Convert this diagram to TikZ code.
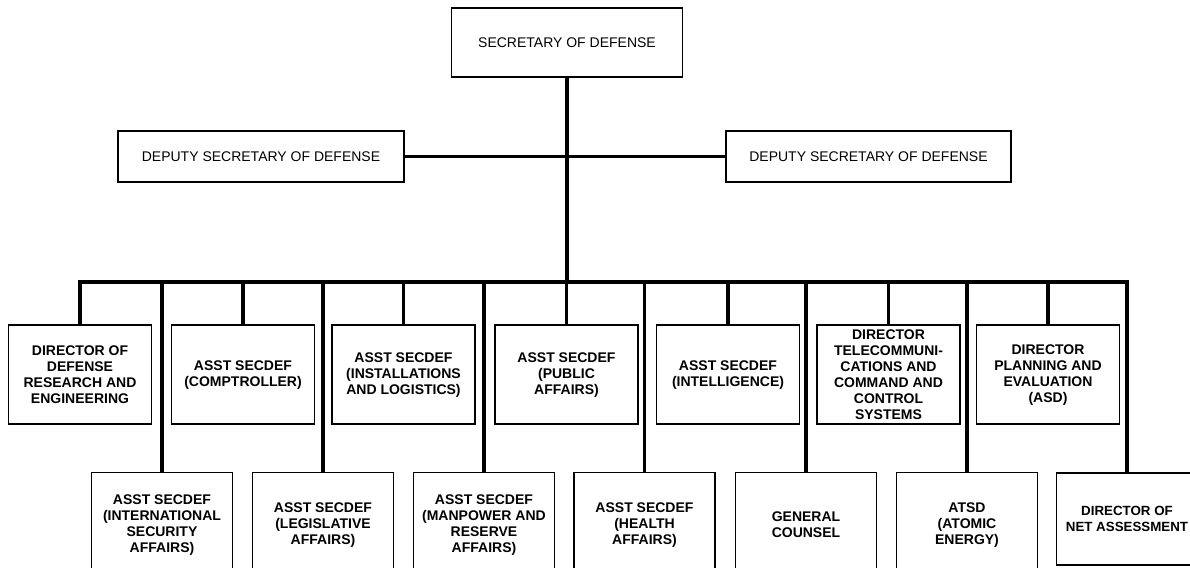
\documentclass[tikz,border=0pt]{standalone}
\usepackage{fontspec}
\setmainfont{Liberation Sans}
\usepackage{tikz}

\begin{document}
\begin{tikzpicture}[x=0.75pt,y=0.75pt,yscale=-1,xscale=1,
  conn/.style={line width=2.4pt},
  headbox/.style={draw,line width=1.3pt,inner sep=0pt,align=center,font=\fontsize{10.5}{12}\selectfont},
  upperbox/.style={draw,line width=1.3pt,inner sep=0pt,align=center,minimum width=107.25pt,minimum height=74.25pt,font=\bfseries\fontsize{10.5}{12}\selectfont},
  lowerbox/.style={draw,line width=1.3pt,inner sep=0pt,align=center,minimum width=105.75pt,minimum height=78.75pt,font=\bfseries\fontsize{10.5}{12}\selectfont}]
\useasboundingbox (0,0) rectangle (1190,568);

% Text Node
\node [headbox,minimum width=173.25pt,minimum height=51.75pt] (secdef) at (567,42.5) {SECRETARY OF DEFENSE};
% Text Node
\node [headbox,minimum width=214.5pt,minimum height=38.25pt] (depL) at (261,156.5) {DEPUTY SECRETARY OF DEFENSE};
% Text Node
\node [headbox,minimum width=213.75pt,minimum height=38.25pt] (depR) at (868.5,156.5) {DEPUTY SECRETARY OF DEFENSE};

% upper row
\node [upperbox] (t1) at (80,374.8) {DIRECTOR OF\\DEFENSE\\RESEARCH AND\\ENGINEERING};
\node [upperbox] (t2) at (243,374.8) {ASST SECDEF\\(COMPTROLLER)};
\node [upperbox] (t3) at (403.5,374.8) {ASST SECDEF\\(INSTALLATIONS\\AND LOGISTICS)};
\node [upperbox] (t4) at (566.5,374.8) {ASST SECDEF\\(PUBLIC\\AFFAIRS)};
\node [upperbox] (t5) at (728,374.8) {ASST SECDEF\\(INTELLIGENCE)};
\node [upperbox] (t6) at (888.5,374.8) {DIRECTOR\\TELECOMMUNI-\\CATIONS AND\\COMMAND AND\\CONTROL\\SYSTEMS};
\node [upperbox] (t7) at (1048,374.8) {DIRECTOR\\PLANNING AND\\EVALUATION\\(ASD)};

% lower row
\node [lowerbox] (b1) at (162,525) {ASST SECDEF\\(INTERNATIONAL\\SECURITY\\AFFAIRS)};
\node [lowerbox] (b2) at (323,525) {ASST SECDEF\\(LEGISLATIVE\\AFFAIRS)};
\node [lowerbox] (b3) at (484,525) {ASST SECDEF\\(MANPOWER AND\\RESERVE\\AFFAIRS)};
\node [lowerbox] (b4) at (644.5,525) {ASST SECDEF\\(HEALTH\\AFFAIRS)};
\node [lowerbox] (b5) at (806,525) {GENERAL\\COUNSEL};
\node [lowerbox] (b6) at (967,525) {ATSD\\(ATOMIC\\ENERGY)};
\node [lowerbox,minimum height=69.4pt,font=\bfseries\fontsize{10}{12}\selectfont] (b7) at (1127,519) {DIRECTOR OF\\NET ASSESSMENT};

\coordinate (bus) at (565,282);

%Straight Lines
\draw [conn] (depL.east) -- (depR.west) ;
\draw [conn] (secdef.south) -- (secdef.south |- bus) ;
\draw [conn] (t1.north) -- (t1.north |- bus) -- (b7.north |- bus) -- (b7.north) ;
%Straight Lines
\draw [conn] (t2.north) -- (t2.north |- bus) ;
\draw [conn] (t3.north) -- (t3.north |- bus) ;
\draw [conn] (t4.north) -- (t4.north |- bus) ;
\draw [conn] (t5.north) -- (t5.north |- bus) ;
\draw [conn] (t6.north) -- (t6.north |- bus) ;
\draw [conn] (t7.north) -- (t7.north |- bus) ;
%Straight Lines
\draw [conn] (b1.north) -- (b1.north |- bus) ;
\draw [conn] (b2.north) -- (b2.north |- bus) ;
\draw [conn] (b3.north) -- (b3.north |- bus) ;
\draw [conn] (b4.north) -- (b4.north |- bus) ;
\draw [conn] (b5.north) -- (b5.north |- bus) ;
\draw [conn] (b6.north) -- (b6.north |- bus) ;

\end{tikzpicture}
\end{document}
